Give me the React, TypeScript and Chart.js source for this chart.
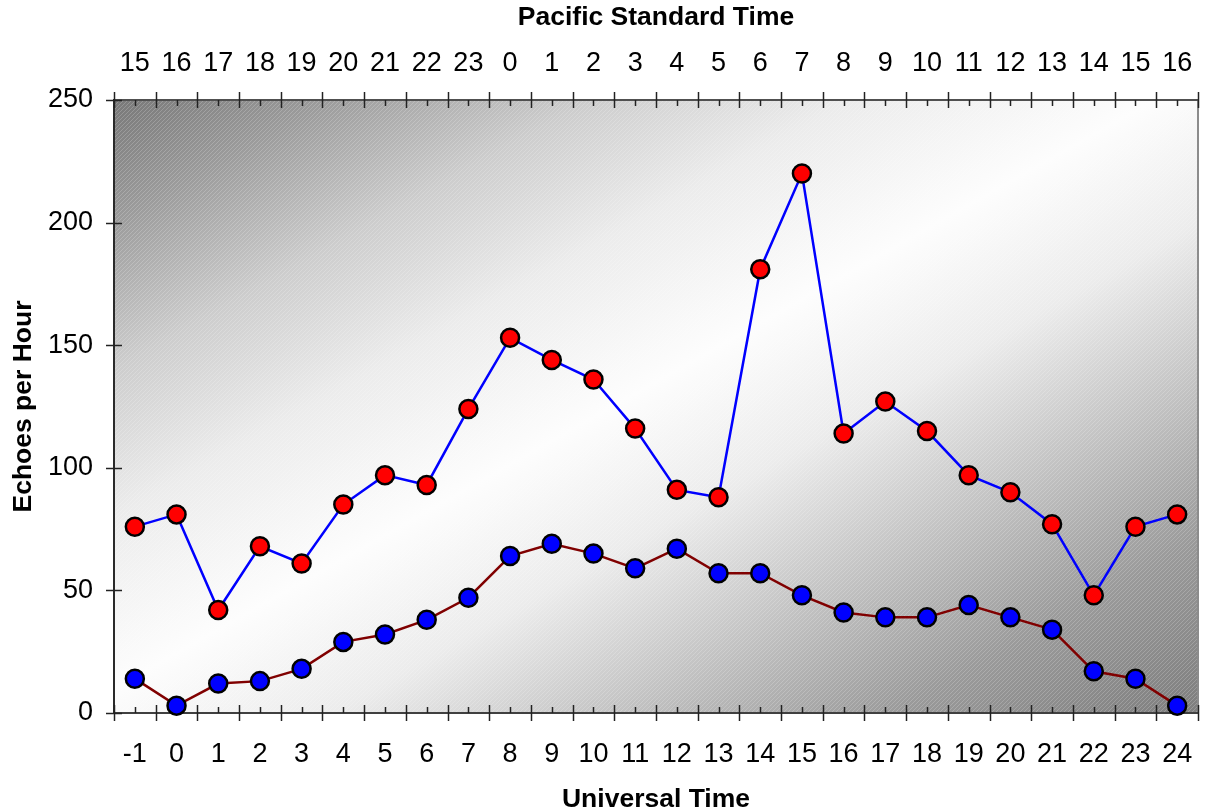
import React, { useEffect, useRef } from 'react';
import { Chart, registerables } from 'chart.js';

Chart.register(...registerables);

// Categories (Universal Time, bottom axis) and Pacific Standard Time (top axis)
const utLabels = ['-1', '0', '1', '2', '3', '4', '5', '6', '7', '8', '9', '10', '11', '12', '13', '14', '15', '16', '17', '18', '19', '20', '21', '22', '23', '24'];
const pstLabels = ['15', '16', '17', '18', '19', '20', '21', '22', '23', '0', '1', '2', '3', '4', '5', '6', '7', '8', '9', '10', '11', '12', '13', '14', '15', '16'];

// Series values
const upperSeries = [76, 81, 42, 68, 61, 85, 97, 93, 124, 153, 144, 136, 116, 91, 88, 181, 220, 114, 127, 115, 97, 90, 77, 48, 76, 81];
const lowerSeries = [14, 3, 12, 13, 18, 29, 32, 38, 47, 64, 69, 65, 59, 67, 57, 57, 48, 41, 39, 39, 44, 39, 34, 17, 14, 3];

// Y axis
const yMin = 0;
const yMax = 250;
const yStep = 50;

const FONT = "'Liberation Sans', Arial, sans-serif";

const bgPlugin = {
  id: 'gradientBg',
  beforeDraw(chart: any) {
    const { ctx, chartArea: a } = chart;
    const w = a.right - a.left;
    const h = a.bottom - a.top;
    ctx.save();
    ctx.translate(a.left, a.top);
    ctx.scale(w, h);
    const g = ctx.createLinearGradient(0, 0, 1, 1);
    g.addColorStop(0, '#787878');
    g.addColorStop(0.1, '#9c9c9c');
    g.addColorStop(0.22, '#cdcdcd');
    g.addColorStop(0.34, '#ececec');
    g.addColorStop(0.48, '#fdfdfd');
    g.addColorStop(0.6, '#ececec');
    g.addColorStop(0.72, '#c6c6c6');
    g.addColorStop(0.86, '#9a9a9a');
    g.addColorStop(1, '#7e7e7e');
    ctx.fillStyle = g;
    ctx.fillRect(0, 0, 1, 1);
    ctx.restore();

    const pc = document.createElement('canvas');
    pc.width = 4;
    pc.height = 4;
    const p = pc.getContext('2d')!;
    p.fillStyle = 'rgba(255,255,255,0.2)';
    for (let i = 0; i < 4; i++) p.fillRect(i, 3 - i, 1, 1);
    ctx.save();
    ctx.fillStyle = ctx.createPattern(pc, 'repeat');
    ctx.fillRect(a.left, a.top, w, h);
    ctx.restore();
  },
};

const axesPlugin = {
  id: 'axesTicks',
  beforeDatasetsDraw(chart: any) {
    const { ctx, chartArea: a, scales } = chart;
    const xs = scales.x;
    const xt = scales.x2;
    const ys = scales.y;
    ctx.save();
    ctx.lineCap = 'butt';
    ctx.strokeStyle = '#8c8c8c';
    ctx.lineWidth = 2;
    ctx.beginPath();
    ctx.moveTo(a.right, a.top);
    ctx.lineTo(a.right, a.bottom);
    ctx.stroke();
    ctx.strokeStyle = '#505050';
    ctx.beginPath();
    ctx.moveTo(a.left, a.top);
    ctx.lineTo(a.right + 1, a.top);
    ctx.stroke();
    ctx.strokeStyle = '#404040';
    ctx.beginPath();
    ctx.moveTo(a.left, a.bottom);
    ctx.lineTo(a.right + 1, a.bottom);
    ctx.stroke();
    ctx.strokeStyle = '#2a2a2a';
    ctx.beginPath();
    ctx.moveTo(a.left, a.top - 1);
    ctx.lineTo(a.left, a.bottom + 1);
    ctx.stroke();

    ctx.lineWidth = 1.5;
    ctx.strokeStyle = '#222';
    const n = utLabels.length;
    for (let i = 0; i <= n; i++) {
      const bx = Math.round(xs.getPixelForValue(i - 0.5)) + 0.5;
      ctx.beginPath();
      ctx.moveTo(bx, a.bottom - 8);
      ctx.lineTo(bx, a.bottom + 8);
      ctx.stroke();
      const tx = Math.round(xt.getPixelForValue(i - 0.5)) + 0.5;
      ctx.beginPath();
      ctx.moveTo(tx, a.top - 8);
      ctx.lineTo(tx, a.top + 8);
      ctx.stroke();
    }
    for (let i = 0; i < n; i++) {
      const cx = Math.round(xs.getPixelForValue(i)) + 0.5;
      ctx.beginPath();
      ctx.moveTo(cx, a.bottom - 6);
      ctx.lineTo(cx, a.bottom);
      ctx.stroke();
      const cx2 = Math.round(xt.getPixelForValue(i)) + 0.5;
      ctx.beginPath();
      ctx.moveTo(cx2, a.top);
      ctx.lineTo(cx2, a.top + 6);
      ctx.stroke();
    }
    for (let v = yMin; v <= yMax; v += yStep) {
      const py = Math.round(ys.getPixelForValue(v)) + 0.5;
      ctx.beginPath();
      ctx.moveTo(a.left - 8, py);
      ctx.lineTo(a.left + 8, py);
      ctx.stroke();
    }
    ctx.restore();
  },
};

export default function App() {
  const canvasRef = useRef<HTMLCanvasElement | null>(null);

  useEffect(() => {
    document.body.style.margin = '0';
    const canvas = canvasRef.current;
    if (!canvas) return;
    // label offset from axis is carried by the line height (padding kept at 0)
    const bottomTickFont = { family: FONT, size: 27, lineHeight: 82.4 / 27 };
    const topTickFont = { family: FONT, size: 27, lineHeight: 72.4 / 27 };
    const yTickFont = { family: FONT, size: 27 };
    const titleFont = { family: FONT, size: 26.5, weight: 'bold' as const, lineHeight: 1 };
    const chart = new Chart(canvas, {
      type: 'line',
      data: {
        labels: utLabels,
        datasets: [
          {
            label: 'Upper',
            data: upperSeries,
            borderColor: '#0000ff',
            borderWidth: 2.5,
            pointBackgroundColor: '#ff0000',
            pointBorderColor: '#000000',
            pointBorderWidth: 2.5,
            pointRadius: 9,
            pointHoverRadius: 9,
            tension: 0,
            clip: false as any,
            xAxisID: 'x',
            yAxisID: 'y',
          },
          {
            label: 'Lower',
            data: lowerSeries,
            borderColor: '#800000',
            borderWidth: 2.5,
            pointBackgroundColor: '#0000ff',
            pointBorderColor: '#000000',
            pointBorderWidth: 2.5,
            pointRadius: 9,
            pointHoverRadius: 9,
            tension: 0,
            clip: false as any,
            xAxisID: 'x',
            yAxisID: 'y',
          },
        ],
      },
      options: {
        animation: false,
        responsive: true,
        maintainAspectRatio: false,
        events: [],
        layout: { autoPadding: false, padding: { left: 0, top: 0, right: 8, bottom: 0 } },
        plugins: {
          legend: { display: false },
          tooltip: { enabled: false },
        },
        scales: {
          x: {
            type: 'category',
            position: 'bottom',
            offset: true,
            grid: { display: false, drawTicks: false },
            border: { display: false },
            ticks: { color: '#000', font: bottomTickFont, padding: 0, maxRotation: 0, autoSkip: false },
            title: { display: true, text: 'Universal Time', color: '#000', font: titleFont, padding: { top: 0, bottom: -3.75 } },
            afterFit: (s: any) => { s.height = 96; s.paddingLeft = 0; s.paddingRight = 0; },
          },
          x2: {
            type: 'category',
            position: 'top',
            labels: pstLabels,
            offset: true,
            grid: { display: false, drawTicks: false },
            border: { display: false },
            ticks: { color: '#000', font: topTickFont, padding: 0, maxRotation: 0, autoSkip: false },
            title: { display: true, text: 'Pacific Standard Time', color: '#000', font: titleFont, padding: { top: 4.75, bottom: 0 } },
            afterFit: (s: any) => { s.height = 100; s.paddingLeft = 0; s.paddingRight = 0; },
          },
          y: {
            type: 'linear',
            position: 'left',
            min: yMin,
            max: yMax,
            grid: { display: false, drawTicks: false },
            border: { display: false },
            ticks: { color: '#000', font: yTickFont, padding: 21, stepSize: yStep },
            title: { display: true, text: 'Echoes per Hour', color: '#000', font: titleFont, padding: { top: 10.75, bottom: 0 } },
            afterFit: (s: any) => { s.width = 114; s.paddingTop = 0; s.paddingBottom = 0; },
          },
        },
      },
      plugins: [bgPlugin, axesPlugin],
    });
    return () => chart.destroy();
  }, []);

  return (
    <div style={{ position: 'fixed', left: 0, top: 0, width: 1206, height: 809, background: '#fff' }}>
      <canvas ref={canvasRef} />
    </div>
  );
}
